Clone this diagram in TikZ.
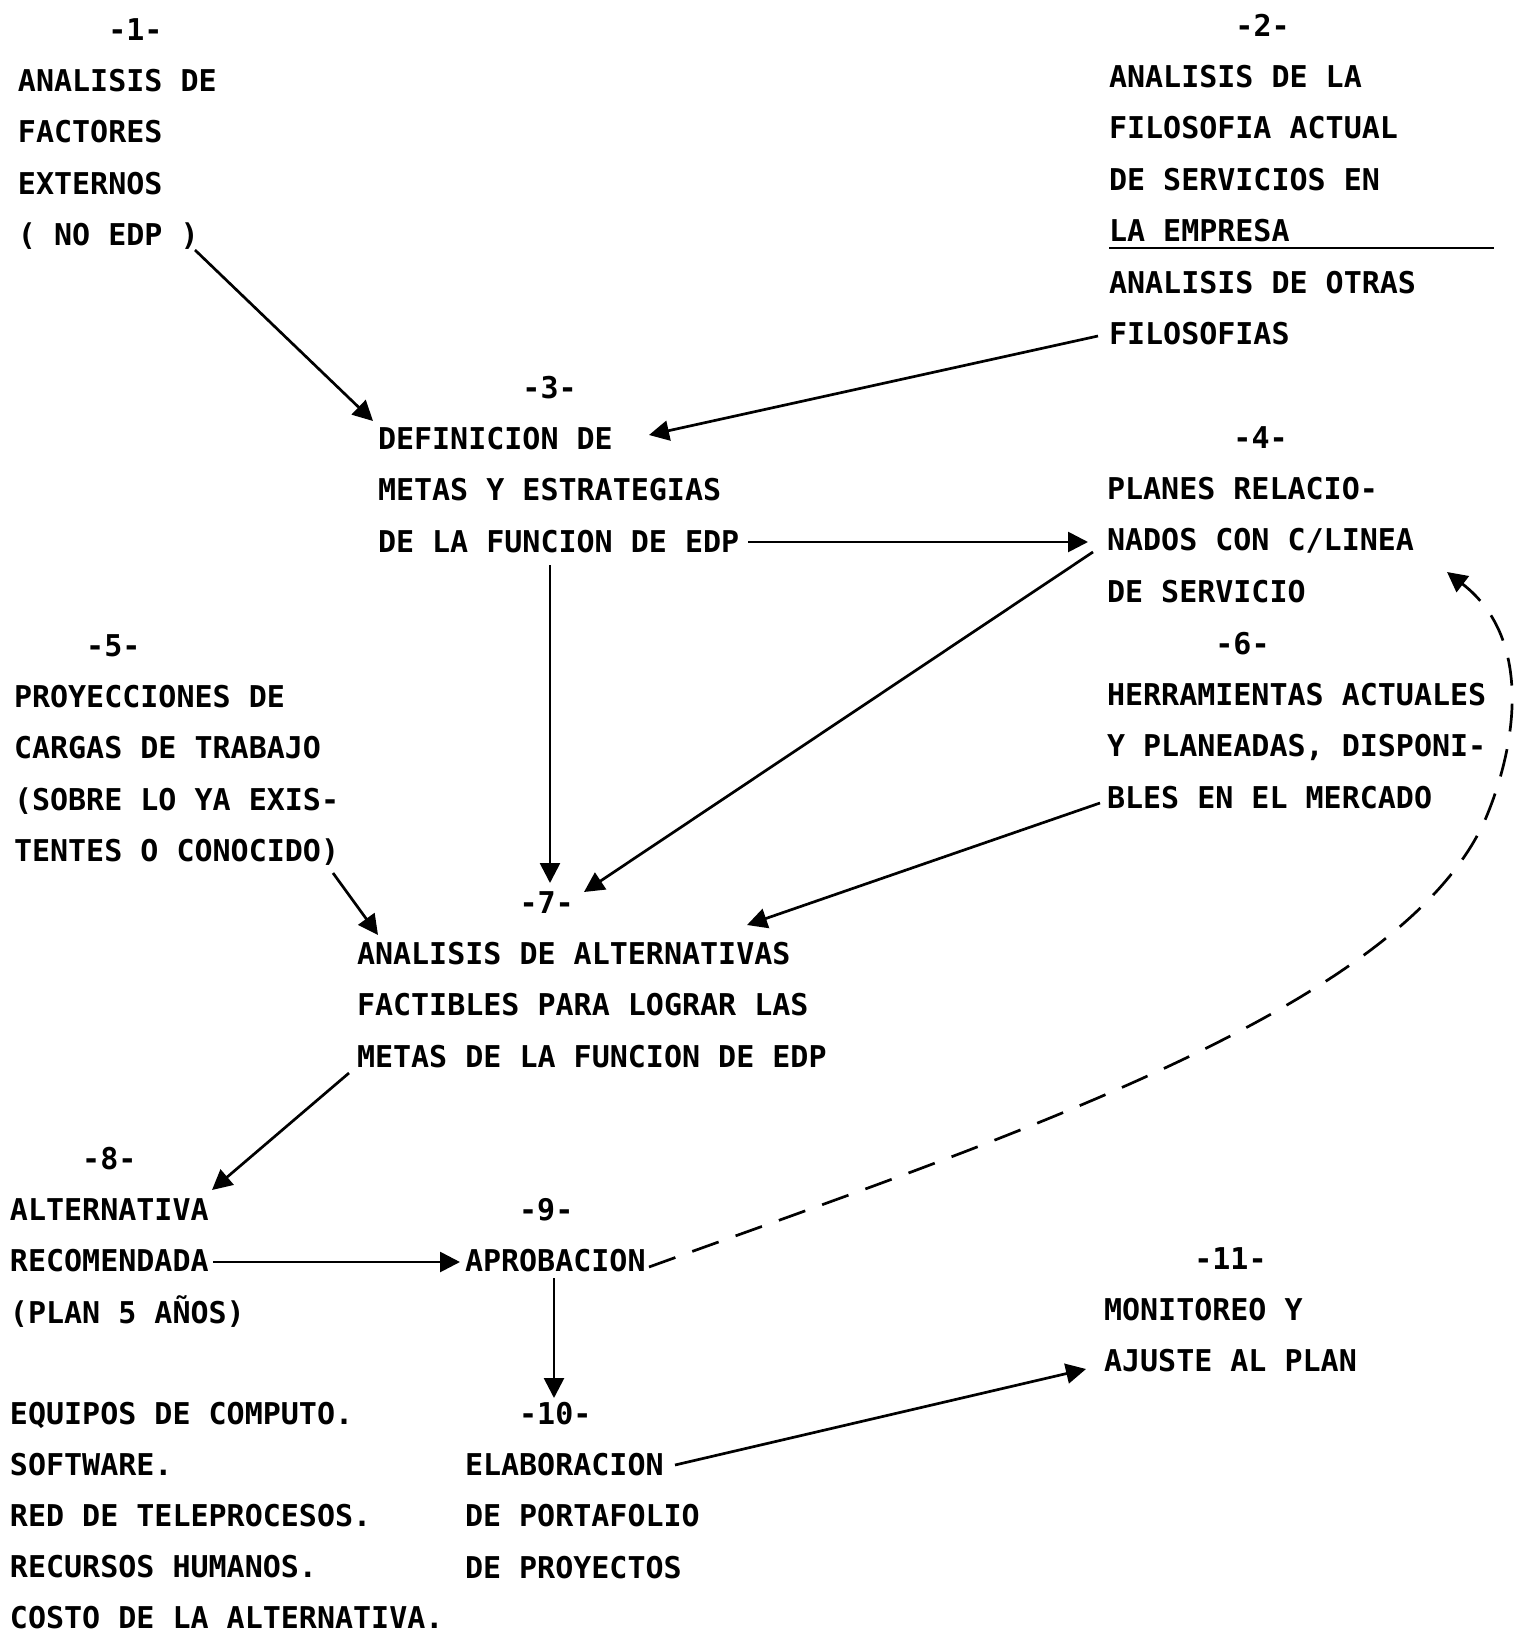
\documentclass[tikz,border=0pt]{standalone}
\usepackage{fontspec}
\newfontfamily\tw{DejaVu Sans Mono Bold}
\usetikzlibrary{arrows.meta}
\newcommand\blk[1]{\begin{tabular}[t]{@{}l@{}}#1\end{tabular}}
\newcommand\ind[1]{\hphantom{#1}}
\frenchspacing
\begin{document}
\begin{tikzpicture}[x=0.5pt,y=-0.5pt,
  txt/.style={anchor=base west, inner sep=0pt, outer sep=0pt, font=\tw\fontsize{15pt}{25.7pt}\selectfont},
  lst/.style={txt, font=\tw\fontsize{15pt}{25.5pt}\selectfont},
  arr/.style={line width=1.35pt, -{Triangle[length=10pt,width=10pt]}},
  dsh/.style={arr, dash pattern=on 14pt off 9pt}]
\fill[white] (0,0) rectangle (1517,1633);
\useasboundingbox (0,0) rectangle (1517,1633);

\node[txt] (n1) at (18,40) {\blk{\ind{00000}-1-\\ANALISIS DE\\FACTORES\\EXTERNOS\\( NO EDP )}};
\node[txt] (n2) at (1109,36) {\blk{\ind{0000000}-2-\\ANALISIS DE LA\\FILOSOFIA ACTUAL\\DE SERVICIOS EN\\\rlap{\rule[-3.8pt]{192.5pt}{1.2pt}}LA EMPRESA\\ANALISIS DE OTRAS\\FILOSOFIAS}};
\node[txt] (n3) at (378,398) {\blk{\ind{00000000}-3-\\DEFINICION DE\\METAS Y ESTRATEGIAS\\DE LA FUNCION DE EDP}};
\node[txt] (n4) at (1107,448) {\blk{\ind{0000000}-4-\\PLANES RELACIO-\\NADOS CON C/LINEA\\DE SERVICIO}};
\node[txt] (n5) at (14,656) {\blk{\ind{0000}-5-\\PROYECCIONES DE\\CARGAS DE TRABAJO\\(SOBRE LO YA EXIS-\\TENTES O CONOCIDO)}};
\node[txt] (n6) at (1107,654) {\blk{\ind{000000}-6-\\HERRAMIENTAS ACTUALES\\Y PLANEADAS, DISPONI-\\BLES EN EL MERCADO}};
\node[txt] (n7) at (357,913) {\blk{\ind{000000000}-7-\\ANALISIS DE ALTERNATIVAS\\FACTIBLES PARA LOGRAR LAS\\METAS DE LA FUNCION DE EDP}};
\node[txt] (n8) at (10,1169) {\blk{\ind{0000}-8-\\ALTERNATIVA\\RECOMENDADA\\(PLAN 5 AÑOS)}};
\node[txt] (n9) at (465,1220) {\blk{\ind{000}-9-\\APROBACION}};
\node[txt] (n10) at (465,1424) {\blk{\ind{000}-10-\\ELABORACION\\DE PORTAFOLIO\\DE PROYECTOS}};
\node[txt] (n11) at (1104,1269) {\blk{\ind{00000}-11-\\MONITOREO Y\\AJUSTE AL PLAN}};
\node[lst] (n12) at (10,1424) {\blk{EQUIPOS DE COMPUTO.\\SOFTWARE.\\RED DE TELEPROCESOS.\\RECURSOS HUMANOS.\\COSTO DE LA ALTERNATIVA.}};

\draw[arr] ([shift={(177,210)}]n1.base west) -- ([shift={(-5,23)}]n3.base west);
\draw[arr] ([shift={(-11,300)}]n2.base west) -- ([shift={(271,37)}]n3.base west);
\draw[arr] ([shift={(370,144)}]n3.base west) -- ([shift={(-19,94)}]n4.base west);
\draw[arr] ([shift={(-14,104)}]n4.base west) -- ([shift={(227,-21)}]n7.base west);
\draw[arr] ([shift={(172,167)}]n3.base west) -- ([shift={(193,-30)}]n7.base west);
\draw[arr] ([shift={(319,217)}]n5.base west) -- ([shift={(21,22)}]n7.base west);
\draw[arr] ([shift={(-7,149)}]n6.base west) -- ([shift={(390,12)}]n7.base west);
\draw[arr] ([shift={(-8,160)}]n7.base west) -- ([shift={(202,21)}]n8.base west);
\draw[arr] ([shift={(203,93)}]n8.base west) -- ([shift={(-5,42)}]n9.base west);
\draw[arr] ([shift={(89,58)}]n9.base west) -- ([shift={(89,-26)}]n10.base west);
\draw[arr] ([shift={(210,41)}]n10.base west) -- ([shift={(-18,100)}]n11.base west);
\draw[dsh] ([shift={(184,47)}]n9.base west) .. controls (1000,1140) and (1400,1010) .. (1485,820)
  .. controls (1515,750) and (1535,640) .. ([shift={(340,124)}]n4.base west);
\end{tikzpicture}
\end{document}
